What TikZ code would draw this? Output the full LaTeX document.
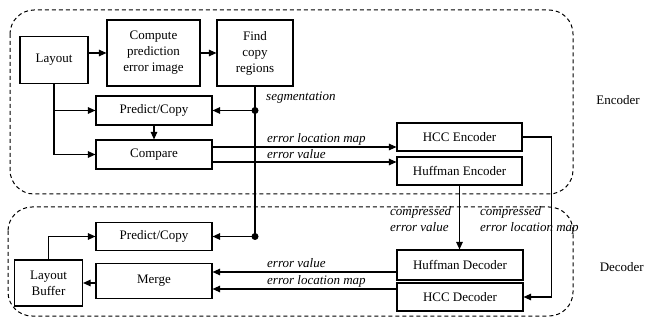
\documentclass[tikz,border=0pt]{standalone}
\usepackage{fontspec}
\setmainfont{Liberation Serif}
\usetikzlibrary{arrows.meta}
\begin{document}
\begin{tikzpicture}[x=1pt,y=-1pt,
  box/.style={draw, line width=1.1pt, inner sep=0pt, align=center, font=\fontsize{13}{16}\selectfont},
  arr/.style={line width=1.1pt, -{Triangle[length=7.5pt,width=6.5pt]}},
  ln/.style={line width=1.1pt},
  lab/.style={inner sep=0pt, anchor=base west, font=\fontsize{13}{16}\selectfont\itshape},
  side/.style={inner sep=0pt, font=\fontsize{13}{16}\selectfont},
  frame/.style={line width=1pt, dash pattern=on 4pt off 3pt, rounded corners=24pt},
  dot/.style={circle, fill, inner sep=0pt, minimum size=7pt}]
\useasboundingbox (0,0) rectangle (645,320);
% frames
\draw[frame] (10,10) rectangle (573,194);
\draw[frame] (8,207) rectangle (573,316);
\node[side] (enc) at (618,100) {Encoder};
\node[side, anchor=east] (dec) at (644,267) {Decoder};
% encoder nodes
\node[box, minimum width=68pt, minimum height=47pt] (layout) at (54,60) {Layout};
\node[box, minimum width=93pt, minimum height=66pt] (compute) at (153.5,53) {Compute\\prediction\\error image};
\node[box, minimum width=76pt, minimum height=66pt] (find) at (255,53) {Find\\copy\\regions};
\node[box, minimum width=116pt, minimum height=29pt] (pce) at (154,110.5) {Predict/Copy};
\node[box, minimum width=116pt, minimum height=29pt] (cmp) at (154,154.5) {Compare};
\node[box, minimum width=125pt, minimum height=28pt] (hcce) at (459.5,137) {HCC Encoder};
\node[box, minimum width=125pt, minimum height=28pt] (hufe) at (459.5,171) {Huffman Encoder};
% decoder nodes
\node[box, minimum width=126pt, minimum height=30pt] (hufd) at (460,265) {Huffman Decoder};
\node[box, minimum width=126pt, minimum height=28pt] (hccd) at (460,297) {HCC Decoder};
\node[box, minimum width=116pt, minimum height=28pt] (pcd) at (154,236.5) {Predict/Copy};
\node[box, minimum width=116pt, minimum height=35pt] (merge) at (154,281) {Merge};
\node[box, minimum width=68pt, minimum height=46pt] (lbuf) at (48.5,283) {Layout\\Buffer};
% dots
\coordinate (d1) at (find.south |- pce.east);
\coordinate (d2) at (find.south |- pcd.east);
\node[dot] (dot1) at (d1) {};
\node[dot] (dot2) at (d2) {};
% encoder connectors
\draw[arr] (layout.east |- compute.west) -- (compute.west);
\draw[arr] (compute.east) -- (find.west);
\draw[arr] (layout.south) |- (cmp.west);
\draw[arr] (layout.south |- pce.west) -- (pce.west);
\draw[arr] (pce.south) -- (cmp.north);
\draw[ln] (find.south) -- (d2);
\draw[arr] (d1) -- (pce.east);
\draw[arr] ([yshift=7.5pt]cmp.east) -- ([yshift=7.5pt]cmp.east -| hcce.west);
\draw[arr] ([yshift=-7.5pt]cmp.east) -- ([yshift=-7.5pt]cmp.east -| hufe.west);
\draw[arr] (hcce.east) -- ++(29,0) |- (hccd.east);
\draw[arr] (hufe.south) -- (hufe.south |- hufd.north);
% decoder connectors
\draw[arr] (d2) -- (pcd.east);
\draw[arr] ([yshift=-7pt]hufd.west) -- ([yshift=-7pt]hufd.west -| merge.east);
\draw[arr] ([yshift=8pt]hccd.west) -- ([yshift=8pt]hccd.west -| merge.east);
\draw[arr] (merge.west |- lbuf.east) -- (lbuf.east);
\draw[arr] (lbuf.north) |- (pcd.west);
% labels
\node[lab] (l1) at (266,101) {segmentation};
\node[lab] (l2) at (267,143) {error location map};
\node[lab] (l3) at (267,158.5) {error value};
\node[lab] (l4) at (267,268) {error value};
\node[lab] (l5) at (267,285) {error location map};
\node[lab, align=left] (l6) at (390,232) {compressed\\error value};
\node[lab, align=left] (l7) at (480,232) {compressed\\error location map};
\end{tikzpicture}
\end{document}
